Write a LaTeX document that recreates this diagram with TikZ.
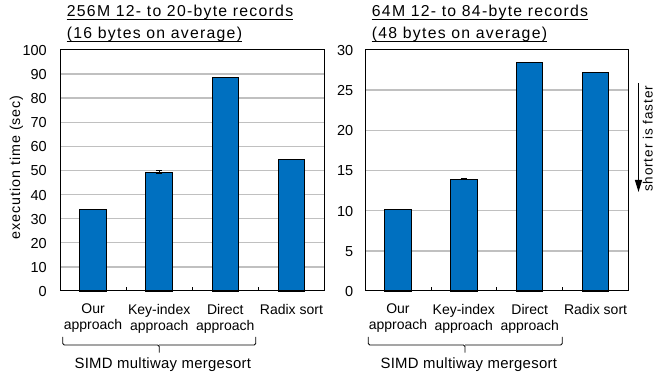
\documentclass[tikz,border=0pt]{standalone}
\usepackage{fontspec}
\setmainfont{Liberation Sans}
\newfontfamily\ttlfont[LetterSpace=8]{Liberation Sans}
\newfontfamily\axfont[LetterSpace=6.8]{Liberation Sans}
\newfontfamily\grpfont[LetterSpace=2]{Liberation Sans}
\usetikzlibrary{arrows.meta}
\definecolor{barblue}{RGB}{0,112,192}
\definecolor{gridgray}{RGB}{192,192,192}
\begin{document}
\begin{tikzpicture}[x=1pt,y=-1pt,
  bar/.style={draw=black,line width=0.9pt,fill=barblue},
  gridln/.style={draw=gridgray,line width=1.4pt},
  frame/.style={draw=black,line width=1pt},
  xtick/.style={draw=black,line width=0.8pt},
  errbar/.style={draw=black,line width=1.2pt},
  brace/.style={draw=black,line width=0.8pt,rounded corners=1.5pt},
  ticklbl/.style={anchor=east,inner sep=0pt,font=\fontsize{14.5}{16}\selectfont},
  catlbl/.style={anchor=north,inner sep=0pt,align=center,font=\fontsize{14}{16}\selectfont},
  ttl/.style={anchor=base west,inner sep=0pt,font=\ttlfont\fontsize{15.8}{18}\selectfont},
  grplbl/.style={anchor=base,inner sep=0pt,font=\grpfont\fontsize{14.9}{17}\selectfont},
  rotlbl/.style={inner sep=0pt,rotate=90,font=\axfont\fontsize{14.3}{16}\selectfont},
]
\useasboundingbox (0,0) rectangle (656,379);
\fill[white] (0,0) rectangle (656,379);

% ---------- left chart ----------
\foreach \v in {10,20,...,90}
  \draw[gridln] (60,{291-2.41*\v}) -- (324.5,{291-2.41*\v});
\draw[bar] (79.8,291) rectangle (106.3,209.06);
\draw[bar] (145.94,291) rectangle (172.44,172.19);
\draw[bar] (212.06,291) rectangle (238.56,77.0);
\draw[bar] (278.19,291) rectangle (304.69,159.41);
\draw[errbar] (159.19,170.7) -- (159.19,173.6);
\draw[errbar] (156.4,170.7) -- (162.0,170.7);
\draw[errbar] (156.4,173.6) -- (162.0,173.6);
\foreach \x in {126.1,192.2,258.4}
  \draw[xtick] (\x,291) -- (\x,287);
\draw[frame] (60,50) rectangle (324.5,291);
\foreach \v in {0,10,...,100}
  \node[ticklbl] (lt\v) at (47,{291.5-2.41*\v}) {\v};
\node[rotlbl] (lylab) at (16.5,167.5) {execution time (sec)};
\node[ttl] (lt1) at (66.7,17) {256M 12- to 20-byte records};
\node[ttl] (lt2) at (66.7,38.5) {(16 bytes on average)};
\draw[line width=0.9pt] ([yshift=-2pt]lt1.base west) -- ([yshift=-2pt]lt1.base east);
\draw[line width=0.9pt] ([yshift=-2.5pt]lt2.base west) -- ([yshift=-2.5pt]lt2.base east);
\node[catlbl] (lc1) at (93.06,304) {Our\\approach};
\node[catlbl] (lc2) at (159.19,304) {Key-index\\approach};
\node[catlbl] (lc3) at (225.31,304) {Direct\\approach};
\node[catlbl] (lc4) at (291.44,304) {Radix sort};
\coordinate (lbA) at (62.7,337);
\coordinate (lbB) at (255.7,337);
\coordinate (lbM) at (159.2,352.5);
\draw[brace] (lbA) |- (lbM |- 0,345) -- (lbM);
\draw[brace] (lbB) |- (lbM |- 0,345);
\node[grplbl] (lg) at (162.8,368.3) {SIMD multiway mergesort};

% ---------- right chart ----------
\foreach \v in {5,10,...,25}
  \draw[gridln] (365,{291-8.0333*\v}) -- (628.5,{291-8.0333*\v});
\draw[bar] (384.69,291) rectangle (411.19,209.86);
\draw[bar] (450.56,291) rectangle (477.06,179.3);
\draw[bar] (516.44,291) rectangle (542.94,62.85);
\draw[bar] (582.31,291) rectangle (608.81,72.5);
\draw[errbar] (394.9,209.5) -- (401.0,209.5);
\draw[errbar] (460.6,178.7) -- (467.0,178.7);
\draw[errbar] (460.6,179.6) -- (467.0,179.6);
\foreach \x in {430.9,496.75,562.6}
  \draw[xtick] (\x,291) -- (\x,287);
\draw[frame] (365,50) rectangle (628.5,291);
\foreach \v in {0,5,...,30}
  \node[ticklbl] (rt\v) at (353.5,{291.5-8.0333*\v}) {\v};
\node[ttl] (rt1) at (371.7,17) {64M 12- to 84-byte records};
\node[ttl] (rt2) at (371.7,38.5) {(48 bytes on average)};
\draw[line width=0.9pt] ([yshift=-2pt]rt1.base west) -- ([yshift=-2pt]rt1.base east);
\draw[line width=0.9pt] ([yshift=-2.5pt]rt2.base west) -- ([yshift=-2.5pt]rt2.base east);
\node[catlbl] (rc1) at (397.94,304) {Our\\approach};
\node[catlbl] (rc2) at (463.81,304) {Key-index\\approach};
\node[catlbl] (rc3) at (529.69,304) {Direct\\approach};
\node[catlbl] (rc4) at (595.56,304) {Radix sort};
\coordinate (rbA) at (368.3,337);
\coordinate (rbB) at (562.3,337);
\coordinate (rbM) at (465,352.5);
\draw[brace] (rbA) |- (rbM |- 0,345) -- (rbM);
\draw[brace] (rbB) |- (rbM |- 0,345);
\node[grplbl] (rg) at (468.8,368.3) {SIMD multiway mergesort};

% ---------- shorter is faster ----------
\coordinate (arTop) at (638.5,83);
\coordinate (arBot) at (638.5,192);
\draw[line width=1.2pt,-{Triangle[length=12pt,width=7pt]}] (arTop) -- (arBot);
\node[rotlbl,anchor=base,font=\axfont\fontsize{13.5}{16}\selectfont] (sif) at (652.6,139) {shorter is faster};
\end{tikzpicture}
\end{document}
